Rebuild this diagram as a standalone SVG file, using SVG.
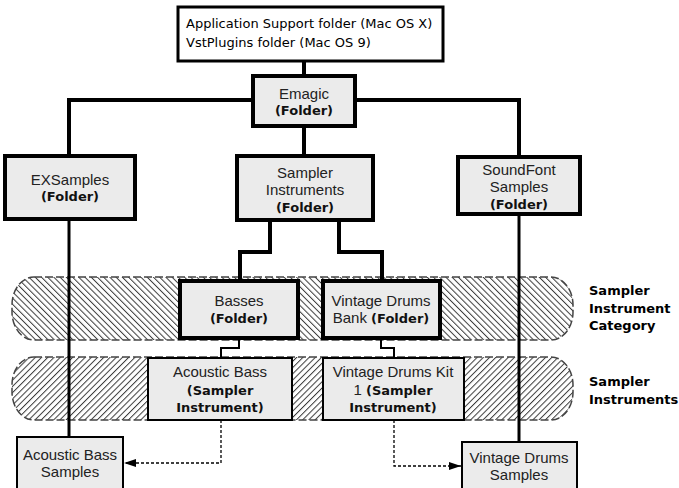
<svg xmlns="http://www.w3.org/2000/svg" width="679" height="488" viewBox="0 0 679 488">
<style>
.t{font-family:"Liberation Sans",Arial,sans-serif;font-size:15px;fill:#222;text-anchor:middle}
.b{font-family:"DejaVu Sans",sans-serif;font-size:13px;font-weight:bold;fill:#111}
.lbl{font-family:"DejaVu Sans",sans-serif;font-size:13px;font-weight:bold;fill:#000}
.mono{font-family:"DejaVu Sans",sans-serif;font-size:13px;fill:#000}
.n4{fill:#ebebeb;stroke:#000;stroke-width:4}
.n2{fill:#ebebeb;stroke:#000;stroke-width:2}
.thick{fill:none;stroke:#000;stroke-width:4}
.mid{fill:none;stroke:#000;stroke-width:3}
.thin{fill:none;stroke:#000;stroke-width:2}
.dot{fill:none;stroke:#000;stroke-width:1.3;stroke-dasharray:3 2}
.band{stroke:#444;stroke-width:1.5;stroke-dasharray:8 3}
</style>
<defs>
<pattern id="hatchA" patternUnits="userSpaceOnUse" width="4.4" height="4.4" patternTransform="rotate(-45)">
<line x1="0.5" y1="0" x2="0.5" y2="4.4" stroke="#3a3a3a" stroke-width="1"/>
</pattern>
<pattern id="hatchB" patternUnits="userSpaceOnUse" width="4.4" height="4.4" patternTransform="rotate(45)">
<line x1="0.5" y1="0" x2="0.5" y2="4.4" stroke="#3a3a3a" stroke-width="1"/>
</pattern>
<marker id="arr" viewBox="0 0 12 8" refX="12" refY="4" markerWidth="12" markerHeight="8" markerUnits="userSpaceOnUse" orient="auto">
<path d="M0,0 L12,4 L0,8 Z" fill="#000"/>
</marker>
</defs>
<rect width="679" height="488" fill="#fff"/>

<g id="bands">
<rect id="band-category" class="band" x="12" y="277" width="561" height="63" rx="22" ry="28" fill="url(#hatchA)"/>
<rect id="band-instruments" class="band" x="12" y="357" width="561" height="63" rx="22" ry="28" fill="url(#hatchB)"/>
</g>

<g id="connectors">
<line class="thick" x1="304" y1="61" x2="304" y2="76"/>
<polyline class="thick" points="69,156 69,100 519,100 519,157"/>
<line class="thick" x1="304" y1="126" x2="304" y2="156"/>
<polyline class="thick" points="270,220 270,252 240,252 240,281"/>
<polyline class="thick" points="339,220 339,252 382,252 382,281"/>
<polyline class="thin" points="239,338 239,348 221,348 221,358"/>
<polyline class="thin" points="381,338 381,348 394,348 394,358"/>
<line class="mid" x1="69" y1="219" x2="69" y2="437"/>
<line class="mid" x1="519" y1="214" x2="519" y2="442"/>
<polyline class="dot" points="221,420 221,463 124,463" marker-end="url(#arr)"/>
<polyline class="dot" points="394,420 394,466 461,466" marker-end="url(#arr)"/>
</g>

<g id="top">
<rect x="178" y="7" width="265" height="54" fill="#fff" stroke="#000" stroke-width="3"/>
<text class="mono" x="186" y="28">Application Support folder (Mac OS X)</text>
<text class="mono" x="186" y="47">VstPlugins folder (Mac OS 9)</text>
</g>

<g id="emagic">
<rect class="n4" x="253" y="76" width="102" height="50"/>
<text class="t" x="304" y="99">Emagic</text>
<text class="t b" x="304" y="115">(Folder)</text>
</g>

<g id="exsamples">
<rect class="n4" x="5" y="156" width="130" height="63"/>
<text class="t" x="70" y="185">EXSamples</text>
<text class="t b" x="70" y="201">(Folder)</text>
</g>

<g id="sampler-instruments">
<rect class="n4" x="237" y="156" width="136" height="64"/>
<text class="t" x="305" y="178">Sampler</text>
<text class="t" x="305" y="195">Instruments</text>
<text class="t b" x="305" y="212">(Folder)</text>
</g>

<g id="soundfont">
<rect class="n4" x="458" y="157" width="122" height="57"/>
<text class="t" x="519" y="175">SoundFont</text>
<text class="t" x="519" y="192">Samples</text>
<text class="t b" x="519" y="209">(Folder)</text>
</g>

<g id="basses">
<rect class="n4" x="180" y="281" width="118" height="57"/>
<text class="t" x="239" y="306">Basses</text>
<text class="t b" x="239" y="323">(Folder)</text>
</g>

<g id="vintage-drums-bank">
<rect class="n4" x="323" y="281" width="117" height="57"/>
<text class="t" x="381" y="306">Vintage Drums</text>
<text class="t" x="381" y="323">Bank <tspan class="b">(Folder)</tspan></text>
</g>

<g id="acoustic-bass">
<rect class="n2" x="148" y="358" width="144" height="62"/>
<text class="t" x="220" y="377">Acoustic Bass</text>
<text class="t b" x="220" y="395">(Sampler</text>
<text class="t b" x="220" y="412">Instrument)</text>
</g>

<g id="vintage-drums-kit">
<rect class="n2" x="323" y="358" width="141" height="62"/>
<text class="t" x="393" y="377">Vintage Drums Kit</text>
<text class="t" x="393" y="395">1 <tspan class="b">(Sampler</tspan></text>
<text class="t b" x="393" y="412">Instrument)</text>
</g>

<g id="acoustic-bass-samples">
<rect class="n2" x="17" y="437" width="106" height="56"/>
<text class="t" x="70" y="460">Acoustic Bass</text>
<text class="t" x="70" y="477">Samples</text>
</g>

<g id="vintage-drums-samples">
<rect class="n2" x="462" y="442" width="115" height="51"/>
<text class="t" x="519" y="463">Vintage Drums</text>
<text class="t" x="519" y="480">Samples</text>
</g>

<g id="labels">
<text class="lbl" x="589" y="295">Sampler</text>
<text class="lbl" x="589" y="313">Instrument</text>
<text class="lbl" x="589" y="330">Category</text>
<text class="lbl" x="589" y="386">Sampler</text>
<text class="lbl" x="589" y="404">Instruments</text>
</g>
</svg>
